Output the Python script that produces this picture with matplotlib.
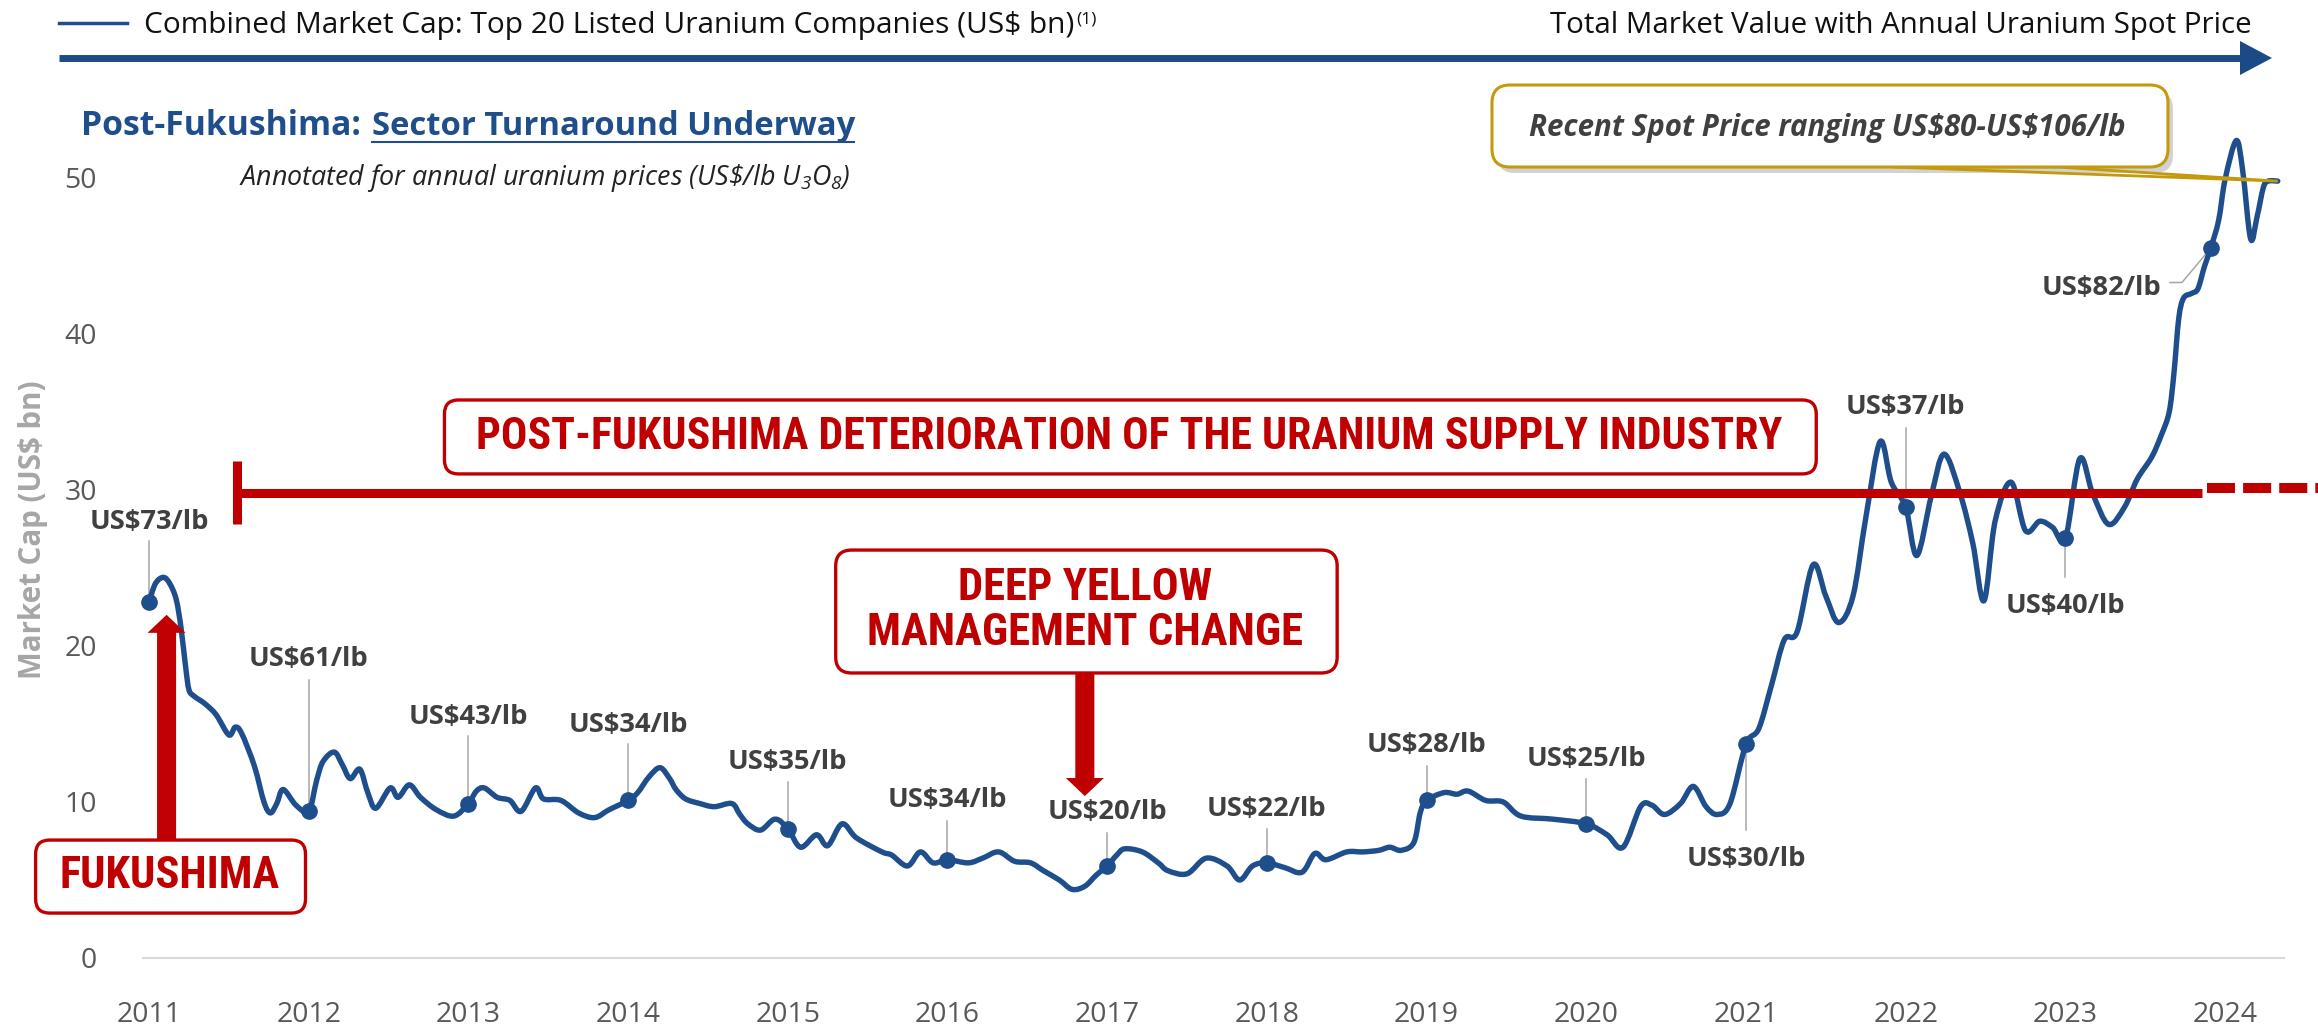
import matplotlib
matplotlib.use("Agg")
import matplotlib.pyplot as plt
from matplotlib.patches import FancyBboxPatch, Polygon, PathPatch
from matplotlib.path import Path
from matplotlib.lines import Line2D
from matplotlib.transforms import IdentityTransform, Affine2D

# ---------------- data ----------------
years = [2011.00, 2011.04, 2011.09, 2011.13, 2011.17, 2011.20, 2011.23, 2011.25, 2011.28, 2011.35,
         2011.42, 2011.50, 2011.54, 2011.58, 2011.66, 2011.72, 2011.76, 2011.80, 2011.84, 2011.92,
         2012.00, 2012.05, 2012.09, 2012.16, 2012.21, 2012.26, 2012.32, 2012.37, 2012.42, 2012.51,
         2012.56, 2012.63, 2012.70, 2012.80, 2012.91, 2013.00, 2013.05, 2013.10, 2013.18, 2013.26,
         2013.33, 2013.42, 2013.47, 2013.58, 2013.69, 2013.79, 2013.88, 2014.00, 2014.06, 2014.13,
         2014.20, 2014.26, 2014.30, 2014.36, 2014.45, 2014.54, 2014.65, 2014.70, 2014.75, 2014.83,
         2014.92, 2015.00, 2015.08, 2015.18, 2015.25, 2015.34, 2015.43, 2015.59, 2015.65, 2015.75,
         2015.83, 2015.91, 2016.00, 2016.13, 2016.22, 2016.32, 2016.42, 2016.52, 2016.60, 2016.70,
         2016.78, 2016.86, 2016.93, 2017.00, 2017.06, 2017.11, 2017.22, 2017.32, 2017.38, 2017.50,
         2017.62, 2017.75, 2017.83, 2017.91, 2018.00, 2018.11, 2018.22, 2018.30, 2018.37, 2018.50,
         2018.60, 2018.70, 2018.77, 2018.84, 2018.92, 2018.96, 2019.00, 2019.11, 2019.19, 2019.26,
         2019.37, 2019.48, 2019.59, 2019.79, 2020.00, 2020.13, 2020.23, 2020.34, 2020.41, 2020.49,
         2020.59, 2020.67, 2020.75, 2020.82, 2020.90, 2021.00, 2021.08, 2021.16, 2021.24, 2021.32,
         2021.42, 2021.50, 2021.58, 2021.67, 2021.75, 2021.84, 2021.91, 2022.00, 2022.07, 2022.16,
         2022.24, 2022.34, 2022.42, 2022.49, 2022.56, 2022.66, 2022.75, 2022.84, 2022.92, 2023.00,
         2023.09, 2023.17, 2023.27, 2023.37, 2023.45, 2023.54, 2023.60, 2023.65, 2023.68, 2023.71,
         2023.74, 2023.79, 2023.83, 2023.87, 2023.91, 2023.96, 2024.00, 2024.07, 2024.11, 2024.16,
         2024.20, 2024.24, 2024.27, 2024.33]
market_cap = [22.8, 24.0, 24.4, 24.0, 23.0, 21.2, 18.6, 17.2, 16.8, 16.3,
              15.6, 14.3, 14.8, 14.4, 12.3, 10.0, 9.3, 9.9, 10.8, 9.8,
              9.4, 11.4, 12.6, 13.2, 12.4, 11.5, 12.1, 10.6, 9.6, 10.9,
              10.3, 11.1, 10.3, 9.5, 9.1, 9.9, 10.7, 10.9, 10.3, 10.1,
              9.4, 10.9, 10.2, 10.1, 9.3, 9.0, 9.5, 10.1, 10.6, 11.6,
              12.2, 11.5, 10.8, 10.2, 9.9, 9.7, 9.9, 9.2, 8.6, 8.2,
              8.9, 8.3, 7.1, 7.9, 7.2, 8.6, 7.7, 6.8, 6.6, 5.9,
              6.8, 6.1, 6.3, 6.1, 6.4, 6.8, 6.2, 6.1, 5.6, 5.0,
              4.4, 4.6, 5.3, 5.9, 6.6, 7.0, 6.8, 6.1, 5.6, 5.4,
              6.4, 5.9, 5.0, 5.9, 6.1, 5.8, 5.5, 6.7, 6.3, 6.8,
              6.8, 6.9, 7.1, 6.9, 7.4, 9.3, 10.1, 10.6, 10.5, 10.7,
              10.1, 10.0, 9.1, 8.9, 8.6, 7.9, 7.1, 9.7, 9.8, 9.2,
              9.9, 11.0, 9.7, 9.2, 9.9, 13.7, 14.7, 17.5, 20.4, 20.9,
              25.2, 23.2, 21.5, 23.2, 28.2, 33.1, 30.5, 28.9, 25.8, 29.6,
              32.3, 29.8, 26.6, 22.9, 28.0, 30.5, 27.4, 28.0, 27.6, 26.9,
              32.0, 29.8, 27.8, 28.9, 30.7, 32.1, 33.5, 35.0, 37.5, 41.0,
              42.3, 42.6, 42.9, 44.3, 45.5, 47.3, 49.9, 52.4, 50.5, 46.1,
              47.5, 49.4, 49.8, 49.8]

price_years = [2011, 2012, 2013, 2014, 2015, 2016, 2017, 2018, 2019, 2020, 2021, 2022, 2023, 2023.91]
price_caps = [22.8, 9.4, 9.9, 10.1, 8.3, 6.3, 5.9, 6.1, 10.1, 8.6, 13.7, 28.9, 26.9, 45.5]
price_labels = ["US$73/lb", "US$61/lb", "US$43/lb", "US$34/lb", "US$35/lb", "US$34/lb", "US$20/lb",
                "US$22/lb", "US$28/lb", "US$25/lb", "US$30/lb", "US$37/lb", "US$40/lb", "US$82/lb"]
year_ticks = list(range(2011, 2025))
value_ticks = [0, 10, 20, 30, 40, 50]

# ---------------- style ----------------
W, H = 2318, 1026
BLUE = "#1f4e8c"
ARROW_BLUE = "#1c4a87"
RED = "#c00000"
GOLD = "#c49a0c"
LABEL = "#404040"
COND = ['Roboto Condensed', 'Liberation Sans Narrow', 'Roboto', 'DejaVu Sans']

plt.rcParams['font.family'] = ['Open Sans', 'DejaVu Sans']
plt.rcParams['mathtext.fontset'] = 'custom'
plt.rcParams['mathtext.rm'] = 'Open Sans:italic'
plt.rcParams['mathtext.it'] = 'Open Sans:italic'
plt.rcParams['lines.scale_dashes'] = False

fig = plt.figure(figsize=(W / 100, H / 100), dpi=100)
renderer = fig.canvas.get_renderer()
PX = Affine2D().scale(1, -1).translate(0, H)  # pixel measured from top -> display


def fit(t, target, use_height=False):
    bb = t.get_window_extent(renderer)
    cur = bb.height if use_height else bb.width
    t.set_fontsize(t.get_fontsize() * target / cur)
    return t


def fy(py):
    return 1 - py / H


ax = fig.add_axes([143 / W, 68 / H, (2284 - 143) / W, 873.6 / H])
ax.set_xlim(2010.9624, 2024.369)
ax.set_ylim(0, 56)
ax.patch.set_visible(False)


# smooth (Catmull-Rom style) rendering of the series through the data scale
def smooth_path(xs, ys):
    verts = [(xs[0], ys[0])]
    codes = [Path.MOVETO]
    n = len(xs)
    for i in range(n - 1):
        x0, y0 = (xs[i - 1], ys[i - 1]) if i > 0 else (xs[i], ys[i])
        x1, y1 = xs[i], ys[i]
        x2, y2 = xs[i + 1], ys[i + 1]
        x3, y3 = (xs[i + 2], ys[i + 2]) if i + 2 < n else (x2, y2)
        c1 = (x1 + (x2 - x0) / 6.0, y1 + (y2 - y0) / 6.0)
        c2 = (x2 - (x3 - x1) / 6.0, y2 - (y3 - y1) / 6.0)
        verts += [c1, c2, (x2, y2)]
        codes += [Path.CURVE4] * 3
    return Path(verts, codes)


ax.add_patch(PathPatch(smooth_path(years, market_cap), fc='none', ec=BLUE, lw=3.9,
                       joinstyle='round', capstyle='round', zorder=3, clip_on=False))
ax.plot(price_years, price_caps, 'o', color=BLUE, ms=11, zorder=4, clip_on=False)

for s in ['top', 'right', 'left']:
    ax.spines[s].set_visible(False)
ax.spines['bottom'].set_color('#d9d9d9')
ax.spines['bottom'].set_linewidth(1.5)
ax.set_xticks(year_ticks)
ax.set_xticklabels([str(y) for y in year_ticks])
ax.set_yticks(value_ticks)
ax.set_yticklabels([str(v) for v in value_ticks])
ax.tick_params(axis='both', length=0, labelsize=20.5, labelcolor='#595959')
ax.tick_params(axis='y', pad=33)
ax.tick_params(axis='x', pad=31)

# y label
yl = fig.text(33 / W, fy(530), "Market Cap (US$ bn)", rotation=90, ha='center', va='center',
              color='#a6a6a6', fontweight='bold', fontsize=19, parse_math=False)
fit(yl, 298, use_height=True)

# ---------------- price labels ----------------
label_layout = [(28.1, 26.7), (19.3, 17.8), (15.6, 14.2), (15.1, 13.7), (12.7, 11.3), (10.3, 8.8),
                (9.5, 8.0), (9.7, 8.3), (13.8, 12.3), (12.9, 11.5), (6.5, 8.2), (35.5, 34.0),
                (22.7, 24.4)]
probe = ax.text(2011, 30, price_labels[0], fontweight='bold', fontsize=18, parse_math=False)
fit(probe, 120)
lab_size = probe.get_fontsize()
probe.remove()

for i, (x, v, lab) in enumerate(zip(price_years, price_caps, price_labels)):
    if i < len(label_layout):
        ty, ly = label_layout[i]
        ax.text(x, ty - 0.6, lab, ha='center', va='baseline', color=LABEL, fontweight='bold',
                fontsize=lab_size, parse_math=False, zorder=6)
        ax.plot([x, x], [ly, v], color='#a6a6a6', lw=1.1, zorder=2.5, clip_on=False)
    else:
        ax.text(2023.60, 43.1 - 0.6, lab, ha='right', va='baseline', color=LABEL, fontweight='bold',
                fontsize=lab_size, parse_math=False, zorder=6)
        ax.plot([2023.655, 2023.73, x], [43.3, 43.3, v], color='#a6a6a6', lw=1.1, zorder=2.5)


# ---------------- annotation boxes ----------------
def rbox(x0, x1, y0, y1, ec, lw, r, z=5, fc='white', dx=0, dy=0, alpha=1.0):
    X0, Y0 = ax.transData.transform((x0, y0))
    X1, Y1 = ax.transData.transform((x1, y1))
    xa, xb = sorted([X0, X1])
    ya, yb = sorted([Y0, Y1])
    p = FancyBboxPatch((xa + dx, ya + dy), xb - xa, yb - ya,
                       boxstyle=f"round,pad=0,rounding_size={r}", transform=IdentityTransform(),
                       fc=fc, ec=ec, lw=lw, zorder=z, alpha=alpha, clip_on=False)
    ax.add_artist(p)
    return p


# post-Fukushima deterioration line
ax.plot([2011.55, 2023.855], [29.8, 29.8], color=RED, lw=6.5, solid_capstyle='butt', zorder=5,
        clip_on=False)
ax.plot([2011.55, 2011.55], [27.85, 31.85], color=RED, lw=6.5, solid_capstyle='butt', zorder=5)
dash, = ax.plot([2023.885, 2024.93], [30.1, 30.1], color=RED, lw=7.2, zorder=5, clip_on=False)
dash.set_dashes([20.2, 5.8])
dash.set_dash_capstyle('butt')

rbox(2012.85, 2021.44, 31.03, 35.77, RED, 2.4, 14)
t = ax.text(2017.14, 32.63, "POST-FUKUSHIMA DETERIORATION OF THE URANIUM SUPPLY INDUSTRY",
            ha='center', va='baseline', color=RED, fontweight='bold', family=COND, fontsize=28,
            zorder=7)
fit(t, 1308)

# Fukushima
rbox(2010.29, 2011.98, 2.88, 7.56, RED, 2.4, 14)
tf = ax.text(2011.13, 4.49, "FUKUSHIMA", ha='center', va='baseline', color=RED, fontweight='bold',
             family=COND, fontsize=26, zorder=7, clip_on=False)
fit(tf, 221)
ax.annotate('', xy=(2011.11, 22.0), xytext=(2011.11, 7.56),
            arrowprops=dict(arrowstyle='simple,head_length=1.3,head_width=2.74,tail_width=1.37',
                            mutation_scale=10, color=RED, shrinkA=0, shrinkB=0, lw=0),
            zorder=6, annotation_clip=False)

# Deep Yellow
rbox(2015.30, 2018.44, 18.27, 26.15, RED, 2.4, 16)
td2 = ax.text(2016.86, 20.06, "MANAGEMENT CHANGE", ha='center', va='baseline', color=RED,
              fontweight='bold', family=COND, fontsize=26, zorder=7)
fit(td2, 437)
td1 = ax.text(2016.86, 22.95, "DEEP YELLOW", ha='center', va='baseline', color=RED,
              fontweight='bold', family=COND, fontsize=td2.get_fontsize(), zorder=7)
ax.annotate('', xy=(2016.86, 10.38), xytext=(2016.86, 18.27),
            arrowprops=dict(arrowstyle='simple,head_length=1.3,head_width=2.74,tail_width=1.37',
                            mutation_scale=10, color=RED, shrinkA=0, shrinkB=0, lw=0),
            zorder=6)

# recent spot price callout (gold)
end_x, end_y = years[-1], market_cap[-1]
bx0 = 2011 + (1892 - 149) / 159.7
bx1 = 2011 + (2057 - 149) / 159.7
by = (958 - 167) / 15.6
tail = Polygon([(bx0, by), (bx1, by), (end_x, end_y)], closed=True, fc='none', ec=GOLD, lw=2.0,
               zorder=5, clip_on=False)
ax.add_patch(tail)
gx0, gx1 = 2011 + (1492 - 149) / 159.7, 2011 + (2168 - 149) / 159.7
gy0, gy1 = (958 - 167) / 15.6, (958 - 85) / 15.6
rbox(gx0, gx1, gy0, gy1, 'none', 0, 18, z=4.8, fc='#7f7f7f', dx=5, dy=-6, alpha=0.35)
rbox(gx0, gx1, gy0, gy1, GOLD, 2.2, 18, z=5)
tg = fig.text(1529 / W, fy(136), "Recent Spot Price ranging US$80-US$106/lb", ha='left',
              va='baseline', color=LABEL, fontweight='bold', style='italic', fontsize=17,
              parse_math=False, zorder=7)
fit(tg, 598)

# ---------------- header ----------------
fig.add_artist(Line2D([59, 127], [23, 23], transform=PX, color=BLUE, lw=2.5))
tl = fig.text(144 / W, fy(33), "Combined Market Cap: Top 20 Listed Uranium Companies (US$ bn)",
              ha='left', va='baseline', color='#111111', fontsize=19, parse_math=False)
fit(tl, 932)
right_px = tl.get_window_extent(renderer).x1
fig.text((right_px + 2) / W, fy(11), "(1)", ha='left', va='top', color='#111111', fontsize=12.5,
         parse_math=False)
tr = fig.text(2252 / W, fy(33), "Total Market Value with Annual Uranium Spot Price", ha='right',
              va='baseline', color='#111111', fontsize=19)
fit(tr, 704)

fig.add_artist(Line2D([59, 2242], [58, 58], transform=PX, color=ARROW_BLUE, lw=5.0,
                      solid_capstyle='butt'))
fig.add_artist(Polygon([(2240, 41), (2272, 58), (2240, 75)], closed=True, transform=PX,
                       fc=ARROW_BLUE, ec='none'))

# title
tB = fig.text(372 / W, fy(135), "Sector Turnaround Underway", ha='left', va='baseline',
              color=BLUE, fontweight='bold', fontsize=22)
fit(tB, 482)
tA = fig.text(81 / W, fy(135), "Post-Fukushima:", ha='left', va='baseline', color=BLUE,
              fontweight='bold', fontsize=22)
fit(tA, 280)
fig.add_artist(Line2D([372, 854], [142, 142], transform=PX, color=BLUE, lw=1.5))

tsub = fig.text(851 / W, fy(185), r"Annotated for annual uranium prices (US\$/lb U$_3$O$_8$)",
                ha='right', va='baseline', color='#222222', style='italic', fontsize=15)
fit(tsub, 614)

fig.savefig("out.png", dpi=100)
